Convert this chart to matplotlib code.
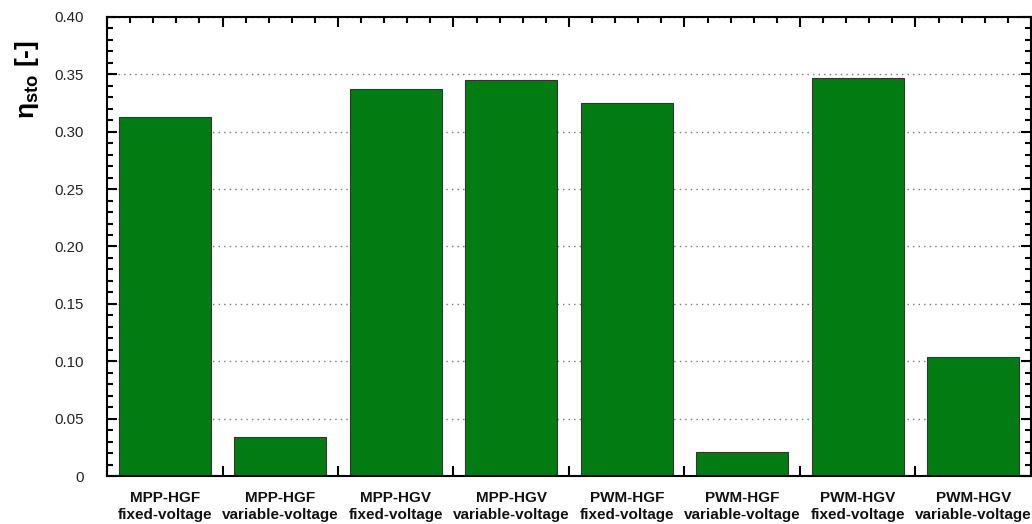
import matplotlib
matplotlib.use("Agg")
import matplotlib.pyplot as plt
from matplotlib.ticker import MultipleLocator, FixedLocator, FuncFormatter

plt.rcParams['font.family'] = ['Liberation Sans', 'DejaVu Sans']
plt.rcParams['mathtext.fontset'] = 'custom'
plt.rcParams['mathtext.rm'] = 'Liberation Sans'
plt.rcParams['mathtext.bf'] = 'Liberation Sans:bold'
plt.rcParams['mathtext.it'] = 'Liberation Sans:italic'

categories = [
    "MPP-HGF\nfixed-voltage", "MPP-HGF\nvariable-voltage",
    "MPP-HGV\nfixed-voltage", "MPP-HGV\nvariable-voltage",
    "PWM-HGF\nfixed-voltage", "PWM-HGF\nvariable-voltage",
    "PWM-HGV\nfixed-voltage", "PWM-HGV\nvariable-voltage",
]
eta_sto = [0.313, 0.034, 0.337, 0.345, 0.325, 0.021, 0.347, 0.104]
y_ticks = [0.0, 0.05, 0.10, 0.15, 0.20, 0.25, 0.30, 0.35, 0.40]

fig = plt.figure(figsize=(10.32, 5.24), dpi=100)
ax = fig.add_axes([0.1037, 0.0916, 0.8953, 0.876])

x = list(range(len(categories)))
ax.bar(x, eta_sto, width=0.8, color='#037B13', edgecolor='#333333',
       linewidth=0.8, zorder=3)

ax.set_xlim(-0.5, len(categories) - 0.5)
ax.set_ylim(0, 0.40)

# y axis: majors every 0.05, minors every 0.01, dotted grid on majors
ax.yaxis.set_major_locator(FixedLocator(y_ticks))
ax.yaxis.set_minor_locator(MultipleLocator(0.01))
ax.yaxis.set_major_formatter(FuncFormatter(lambda v, p: "0" if abs(v) < 1e-9 else f"{v:.2f}"))
ax.grid(axis='y', which='major', linestyle=(0, (1, 3)), color='#777777',
        linewidth=1.0, zorder=0)

# x axis: majors on category boundaries, minors at fifths, labels centred
bounds = [i - 0.5 for i in range(len(categories) + 1)]
ax.xaxis.set_major_locator(FixedLocator(bounds))
minors = [b + k * 0.2 for b in bounds[:-1] for k in range(1, 5)]
ax.xaxis.set_minor_locator(FixedLocator(minors))
ax.set_xticklabels([])
for xi, lab in zip(x, categories):
    ax.text(xi, -0.0135, lab, ha='center', va='top', fontsize=11,
            fontweight='bold', linespacing=1.2, color='#111111',
            transform=ax.transData, clip_on=False)

ax.tick_params(axis='both', which='both', direction='in', top=True,
               right=True, color='black')
ax.tick_params(axis='both', which='major', length=7, width=1.5)
ax.tick_params(axis='both', which='minor', length=4, width=1.5)
ax.tick_params(axis='y', which='major', labelsize=10.8, pad=17,
               labelcolor='#222222')

for s in ax.spines.values():
    s.set_linewidth(1.5)
    s.set_color('black')
    s.set_zorder(5)

fig.text(0.026, 0.849, r"$\mathbf{\eta_{sto}}$ [-]", rotation=90,
         ha='center', va='center', fontsize=19, fontweight='bold')

fig.savefig("out.png", dpi=100)
